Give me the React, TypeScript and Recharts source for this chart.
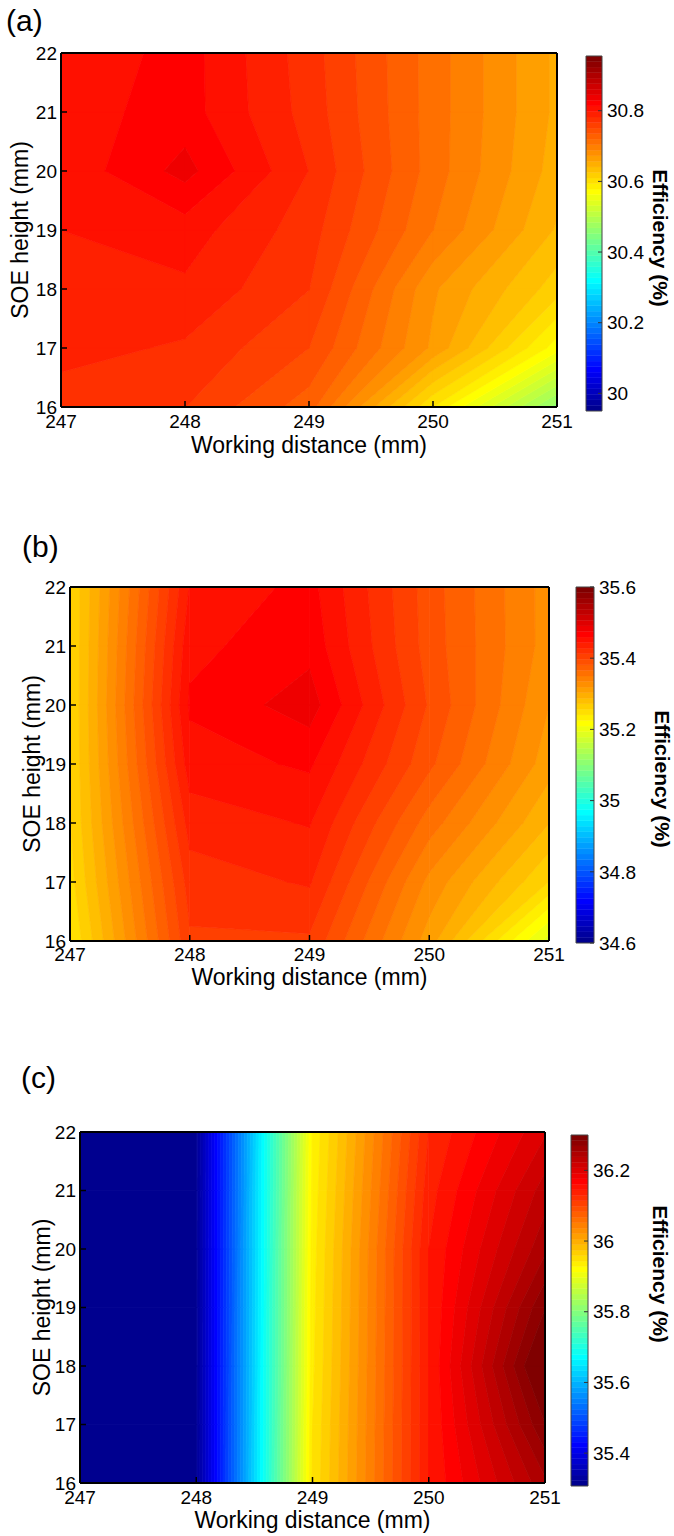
import React from 'react';
import { ScatterChart, Scatter, XAxis, YAxis } from 'recharts';

const FONT = "'Liberation Sans', Arial, Helvetica, sans-serif";

// grid shared by the three maps
const distances = [247, 248, 249, 250, 251];
const heights = [16, 17, 18, 19, 20, 21, 22];

// efficiency (%) – one row per SOE height (16 -> 22), one column per distance
const effA = [
  [30.774, 30.767, 30.727, 30.594, 30.46],
  [30.788, 30.78, 30.751, 30.669, 30.57],
  [30.792, 30.795, 30.767, 30.675, 30.617],
  [30.798, 30.806, 30.774, 30.704, 30.639],
  [30.802, 30.835, 30.782, 30.712, 30.649],
  [30.806, 30.821, 30.776, 30.712, 30.653],
  [30.799, 30.821, 30.774, 30.712, 30.653],
];
const effB = [
  [35.24, 35.41, 35.41, 35.311, 35.186],
  [35.25, 35.42, 35.43, 35.33, 35.256],
  [35.255, 35.435, 35.445, 35.358, 35.288],
  [35.256, 35.452, 35.462, 35.385, 35.31],
  [35.256, 35.462, 35.483, 35.395, 35.319],
  [35.256, 35.455, 35.47, 35.39, 35.327],
  [35.256, 35.445, 35.465, 35.389, 35.327],
];
const effC = [
  [35.1, 35.318, 35.945, 36.145, 36.25],
  [35.1, 35.318, 35.943, 36.145, 36.284],
  [35.1, 35.318, 35.94, 36.145, 36.315],
  [35.1, 35.318, 35.938, 36.145, 36.284],
  [35.1, 35.318, 35.936, 36.145, 36.25],
  [35.1, 35.318, 35.933, 36.138, 36.23],
  [35.1, 35.318, 35.93, 36.13, 36.205],
];

// colour axis limits and colorbar ticks
const rangeA = [29.95, 30.955];
const rangeB = [34.6, 35.6];
const rangeC = [35.307, 36.3];
const cbTicksA = [30, 30.2, 30.4, 30.6, 30.8];
const cbTicksB = [34.6, 34.8, 35, 35.2, 35.4, 35.6];
const cbTicksC = [35.4, 35.6, 35.8, 36, 36.2];

const NB = 64;

// matlab jet(64), i = 1..64
const jet = (i: number) => {
  const r = i <= 24 ? 0 : i <= 40 ? (i - 24) / 16 : i <= 56 ? 1 : (72 - i) / 16;
  const g = i <= 8 ? 0 : i <= 24 ? (i - 8) / 16 : i <= 40 ? 1 : i <= 56 ? (56 - i) / 16 : 0;
  const b = i <= 8 ? (i + 8) / 16 : i <= 24 ? 1 : i <= 40 ? (40 - i) / 16 : 0;
  return `rgb(${Math.round(r * 255)},${Math.round(g * 255)},${Math.round(b * 255)})`;
};

const buildCells = (z: number[][]) => {
  const cells: any[] = [];
  for (let j = 0; j < heights.length - 1; j++) {
    for (let i = 0; i < distances.length - 1; i++) {
      cells.push({
        x: distances[i],
        y: heights[j],
        c: [z[j][i], z[j][i + 1], z[j + 1][i + 1], z[j + 1][i]],
      });
    }
  }
  return cells;
};

// polygon of one cell lying between lo and hi (marching squares, straight edges)
const bandPoly = (pts: number[][], vals: number[], lo: number, hi: number) => {
  const out: number[][] = [];
  for (let k = 0; k < 4; k++) {
    const a = vals[k];
    const b = vals[(k + 1) % 4];
    const pa = pts[k];
    const pb = pts[(k + 1) % 4];
    if (a >= lo && a < hi) out.push(pa);
    const cr: { t: number; p: number[] }[] = [];
    [lo, hi].forEach((L) => {
      if (!isFinite(L)) return;
      if (a < L !== b < L) {
        const t = (L - a) / (b - a);
        cr.push({ t, p: [pa[0] + t * (pb[0] - pa[0]), pa[1] + t * (pb[1] - pa[1])] });
      }
    });
    cr.sort((u, v) => u.t - v.t).forEach((c) => out.push(c.p));
  }
  return out;
};

const contourShape = (cw: number, ch: number, range: number[]) => (props: any) => {
  const { cx, cy, payload } = props;
  if (cx == null || cy == null) return <g />;
  const pts = [
    [cx, cy],
    [cx + cw, cy],
    [cx + cw, cy - ch],
    [cx, cy - ch],
  ];
  const vals: number[] = payload.c;
  const vmin = Math.min(...vals);
  const vmax = Math.max(...vals);
  const step = (range[1] - range[0]) / NB;
  const polys: React.ReactNode[] = [];
  for (let k = 0; k < NB; k++) {
    const lo = k === 0 ? -Infinity : range[0] + k * step;
    const hi = k === NB - 1 ? Infinity : range[0] + (k + 1) * step;
    if (vmax < lo || vmin >= hi) continue;
    const poly = bandPoly(pts, vals, lo, hi);
    if (poly.length < 3) continue;
    const col = jet(k + 1);
    polys.push(
      <polygon
        key={k}
        points={poly.map((p) => `${p[0]},${p[1]}`).join(' ')}
        fill={col}
        stroke={col}
        strokeWidth={0.7}
      />
    );
  }
  return <g>{polys}</g>;
};

// one colorbar swatch per colormap entry, anchored at its lower value
const swatchShape = (w: number, h: number) => (props: any) => {
  const { cx, cy, payload } = props;
  if (cx == null || cy == null) return <g />;
  return (
    <rect
      x={cx}
      y={cy - h}
      width={w}
      height={h}
      fill={payload.color}
      stroke={payload.color}
      strokeWidth={0.4}
    />
  );
};

type Box = { l: number; t: number; r: number; b: number };

const panels = [
  {
    id: 'a',
    label: '(a)',
    z: effA,
    range: rangeA,
    cbTicks: cbTicksA,
    frame: { l: 61, t: 53, r: 557, b: 407 },
    cb: { l: 586, t: 56, r: 602, b: 411 },
    labelAt: [6, 31],
    xTitleY: 453,
    yTitleX: 20,
    cbTitle: [660, 238],
    xTickMargin: 14,
  },
  {
    id: 'b',
    label: '(b)',
    z: effB,
    range: rangeB,
    cbTicks: cbTicksB,
    frame: { l: 70, t: 587, r: 549, b: 941 },
    cb: { l: 576, t: 587, r: 594, b: 943 },
    labelAt: [22, 557],
    xTitleY: 985,
    yTitleX: 32,
    cbTitle: [662, 779],
    xTickMargin: 13,
  },
  {
    id: 'c',
    label: '(c)',
    z: effC,
    range: rangeC,
    cbTicks: cbTicksC,
    frame: { l: 80, t: 1132, r: 545, b: 1483 },
    cb: { l: 571, t: 1135, r: 588, b: 1486 },
    labelAt: [21, 1088],
    xTitleY: 1528,
    yTitleX: 42,
    cbTitle: [660, 1274],
    xTickMargin: 14,
  },
];

const tickStyle = { fill: '#000', fontSize: 19, fontFamily: FONT };
const frameLine = { stroke: '#000', strokeWidth: 2 };
const tickLine = { stroke: '#000', strokeWidth: 1.5 };

const ContourPanel = ({ p }: { p: (typeof panels)[number] }) => {
  const f: Box = p.frame;
  const top = f.t - 20;
  const height = f.b + 32 - top;
  const width = f.r + 20;
  const cw = (f.r - f.l) / (distances.length - 1);
  const ch = (f.b - f.t) / (heights.length - 1);
  return (
    <div style={{ position: 'absolute', left: 0, top }}>
      <ScatterChart width={width} height={height} margin={{ top: 10, right: 10, bottom: 0, left: 0 }}>
        <Scatter
          data={buildCells(p.z)}
          xAxisId="bottom"
          yAxisId="left"
          shape={contourShape(cw, ch, p.range)}
          isAnimationActive={false}
          zIndex={100}
        />
        <XAxis
          xAxisId="bottom"
          type="number"
          dataKey="x"
          domain={[247, 251]}
          ticks={distances}
          interval={0}
          allowDataOverflow
          height={32}
          tickSize={-6}
          tickMargin={p.xTickMargin}
          axisLine={frameLine}
          tickLine={tickLine}
          tick={tickStyle}
        />
        <XAxis
          xAxisId="top"
          orientation="top"
          type="number"
          domain={[247, 251]}
          ticks={distances}
          interval={0}
          allowDataOverflow
          height={10}
          tickSize={-6}
          axisLine={frameLine}
          tickLine={tickLine}
          tick={false}
        />
        <YAxis
          yAxisId="left"
          type="number"
          dataKey="y"
          domain={[16, 22]}
          ticks={heights}
          interval={0}
          allowDataOverflow
          width={f.l}
          tickSize={-6}
          tickMargin={10}
          axisLine={frameLine}
          tickLine={tickLine}
          tick={tickStyle}
        />
        <YAxis
          yAxisId="right"
          orientation="right"
          type="number"
          domain={[16, 22]}
          ticks={heights}
          interval={0}
          allowDataOverflow
          width={10}
          tickSize={-6}
          axisLine={frameLine}
          tickLine={tickLine}
          tick={false}
        />
      </ScatterChart>
    </div>
  );
};

const ColorBar = ({ p }: { p: (typeof panels)[number] }) => {
  const c: Box = p.cb;
  const left = c.l - 10;
  const top = c.t - 12;
  const width = 674 - left - 12;
  const height = c.b + 12 - top;
  const step = (p.range[1] - p.range[0]) / NB;
  const swatches = Array.from({ length: NB }, (_, k) => ({
    x: 0,
    y: p.range[0] + k * step,
    color: jet(k + 1),
  }));
  const border = { stroke: '#444', strokeWidth: 1 };
  return (
    <div style={{ position: 'absolute', left, top }}>
      <ScatterChart width={width} height={height} margin={{ top: 0, right: 0, bottom: 0, left: 0 }}>
        <Scatter
          data={swatches}
          xAxisId="cbx"
          yAxisId="cby"
          shape={swatchShape(c.r - c.l, (c.b - c.t) / NB)}
          isAnimationActive={false}
          zIndex={100}
        />
        <XAxis
          xAxisId="cbx"
          type="number"
          dataKey="x"
          domain={[0, 1]}
          allowDataOverflow
          height={12}
          axisLine={border}
          tickLine={false}
          tick={false}
        />
        <XAxis
          xAxisId="cbtop"
          orientation="top"
          type="number"
          domain={[0, 1]}
          height={12}
          axisLine={border}
          tickLine={false}
          tick={false}
        />
        <YAxis
          yAxisId="cbleft"
          type="number"
          domain={p.range}
          width={10}
          axisLine={border}
          tickLine={false}
          tick={false}
        />
        <YAxis
          yAxisId="cby"
          orientation="right"
          type="number"
          dataKey="y"
          domain={p.range}
          ticks={p.cbTicks}
          interval={0}
          allowDataOverflow
          width={width - 10 - (c.r - c.l)}
          tickSize={-4}
          tickMargin={9}
          axisLine={border}
          tickLine={{ stroke: '#333', strokeWidth: 1 }}
          tick={tickStyle}
        />
      </ScatterChart>
    </div>
  );
};

const Titles = () => (
  <svg
    width={674}
    height={1536}
    style={{ position: 'absolute', left: 0, top: 0, pointerEvents: 'none' }}
    fontFamily={FONT}
  >
    {panels.map((p) => {
      const f = p.frame;
      const cx = (f.l + f.r) / 2;
      const cy = (f.t + f.b) / 2;
      return (
        <g key={p.id}>
          <text x={p.labelAt[0]} y={p.labelAt[1]} fontSize={30} fill="#000">
            {p.label}
          </text>
          <text x={cx} y={p.xTitleY} fontSize={23} textAnchor="middle" fill="#000">
            Working distance (mm)
          </text>
          <text
            transform={`translate(${p.yTitleX},${cy}) rotate(-90)`}
            fontSize={23}
            textAnchor="middle"
            dominantBaseline="central"
            fill="#000"
          >
            SOE height (mm)
          </text>
          <text
            transform={`translate(${p.cbTitle[0]},${p.cbTitle[1]}) rotate(90)`}
            fontSize={21}
            fontWeight="bold"
            textAnchor="middle"
            dominantBaseline="central"
            fill="#000"
          >
            Efficiency (%)
          </text>
        </g>
      );
    })}
  </svg>
);

export default function App() {
  return (
    <div
      style={{
        position: 'absolute',
        left: 0,
        top: 0,
        width: 674,
        height: 1536,
        background: '#fff',
        fontFamily: FONT,
      }}
    >
      {panels.map((p) => (
        <ContourPanel key={p.id} p={p} />
      ))}
      {panels.map((p) => (
        <ColorBar key={p.id} p={p} />
      ))}
      <Titles />
    </div>
  );
}
